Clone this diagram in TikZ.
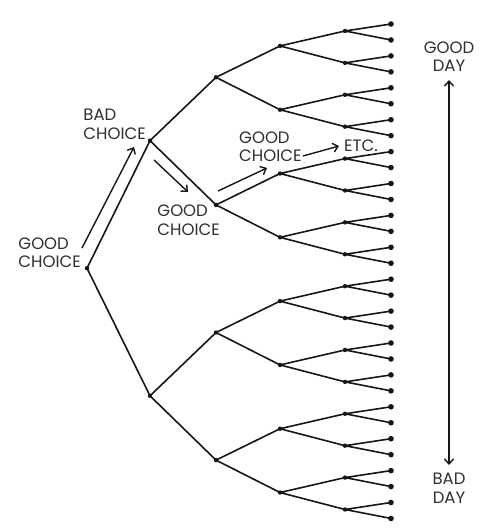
\documentclass[tikz,border=0pt]{standalone}
\usepackage{fontspec}
\setmainfont{Poppins}
\usetikzlibrary{arrows.meta,calc,positioning}

\definecolor{ink}{HTML}{161616}
\definecolor{txt}{HTML}{2E2E2E}

\tikzset{
  branch/.style={draw=ink,line width=1.6pt,line join=round},
  lbl/.style={text=txt,inner sep=0pt,align=left,
    font=\fontsize{16.5}{18.5}\selectfont},
  note/.style={draw=ink,line width=1.4pt,-{Straight Barb[length=5pt,width=9pt]}}
}

\begin{document}
\begin{tikzpicture}[x=1pt,y=-1pt]
 \useasboundingbox (0,0) rectangle (492,531);
 % tree points, level by level
 \foreach \k/\xx/\dy in {0/87/-3,1/150/-3,2/216/-2.5,3/280/-2,4/345/-1,5/391/0}{
    \pgfmathtruncatemacro\n{2^\k-1}
    \pgfmathsetmacro\s{510.4/2^\k}
    \foreach \j in {0,...,\n}
       \coordinate (v\k-\j) at (\xx,{24+(\s-15.95)/2+\s*\j+\dy});
 }
 \foreach \k in {0,...,4}{
    \pgfmathtruncatemacro\n{2^\k-1}
    \pgfmathtruncatemacro\kk{\k+1}
    \foreach \j in {0,...,\n}{
       \pgfmathtruncatemacro\a{2*\j}
       \pgfmathtruncatemacro\b{2*\j+1}
       \draw[branch] (v\kk-\a) -- (v\k-\j) -- (v\kk-\b);
       \fill[ink] (v\k-\j) circle (2.2pt);
    }
 }
 \foreach \j in {0,...,31}
    \fill[ink] (v5-\j) circle (2.8pt);

 % choices
 \node[lbl,above left=0pt and 6pt of v0-0] (gc0) {GOOD\\CHOICE};
 \node[lbl,above left=1pt and 4pt of v1-0] (bc1) {BAD\\CHOICE};
 \node[lbl,anchor=north east,xshift=4pt] (gc2) at (v2-1) {GOOD\\CHOICE};
 \node[lbl,anchor=south west] (gc3) at (239,162) {GOOD\\CHOICE};
 \node[lbl,anchor=base west] (etc) at (344,151) {ETC.};

 \coordinate (a1s) at (82,248);  \coordinate (a1e) at (134,147);
 \coordinate (a2s) at (154,160); \coordinate (a2e) at (188,192);
 \coordinate (a3s) at (218,191); \coordinate (a3e) at (267,168);
 \coordinate (a4s) at (303,156); \coordinate (a4e) at (339,146);
 \foreach \i in {1,...,4}
    \draw[note] (a\i s) -- (a\i e);

 % good day / bad day
 \node[lbl,align=center,anchor=south] (gday) at (449,72) {GOOD\\DAY};
 \node[lbl,align=center,anchor=north] (bday) at (449,473) {BAD\\DAY};
 \draw[note,{Straight Barb[length=5pt,width=9pt]}-{Straight Barb[length=5pt,width=9pt]},
    shorten <=8pt,shorten >=8pt] (gday) -- (bday);
\end{tikzpicture}
\end{document}
